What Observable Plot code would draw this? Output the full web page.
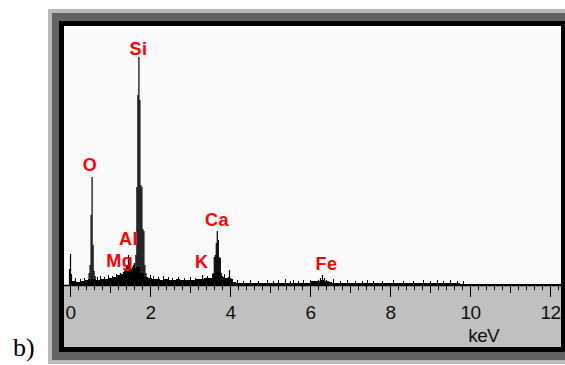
<!DOCTYPE html>
<html><head><meta charset="utf-8">
<script src="https://cdn.jsdelivr.net/npm/d3@7"></script>
<script src="https://cdn.jsdelivr.net/npm/@observablehq/plot@0.6"></script>
<style>
html,body{margin:0;padding:0;width:565px;height:365px;overflow:hidden;background:#fff;}
#f1{position:absolute;left:48px;top:9px;border:4px solid #b9b9b9;}
#f2{border:8px solid #626262;border-left-width:7px;border-right-width:7px;}
#f3{border:5px solid #000;width:497px;height:321px;}
#lab{position:absolute;left:13px;top:335px;font:26px/26px "Liberation Serif","Times New Roman",serif;color:#000;}
.axtext text{letter-spacing:-0.6px;}
.elabel text{letter-spacing:0.5px;}
</style></head>
<body>
<div id="lab">b)</div>
<div id="f1"><div id="f2"><div id="f3"></div></div></div>
<script>
// continuum (keV, counts)
const bgKeV = [0.0,0.1,0.2,0.3,0.4,0.5,0.6,0.7,0.8,0.9,1.0,1.1,1.2,1.3,1.4,1.5,1.6,1.7,1.8,1.9,
  2.0,2.1,2.2,2.3,2.4,2.5,2.6,2.7,2.8,2.9,3.0,3.1,3.2,3.3,3.4,3.5,3.6,3.7,3.8,3.9,
  4.0,4.1,4.2,4.6,5.0,5.4,5.8,6.2,6.3,6.4,6.5,6.6,7.0,7.5,8.0,8.5,9.0,9.5,10.0,11.0,12.0,12.3];
const bgCounts = [3,4,3,4,5,6,6,5,6,6,7,8,10,11,13,15,17,18,12,8,
  7,6,6,5,6,5,5,6,5,5,5,5,6,6,7,7,11,13,8,7,
  6,3,2,2,2,2,2,4,5,4,3,2,2,2,2,2,2,2,1,1,1,1];
// peak channels (keV, counts)
const peakKeV = [-0.025,0.0,0.025,
  0.465,0.49,0.515,0.54,0.565,0.59,0.615,
  1.2,1.225,1.25,1.275,1.3,1.325,1.35,1.375,1.4,1.425,1.45,1.475,1.5,1.525,1.55,1.575,
  1.6,1.635,1.66,1.685,1.71,1.735,1.76,1.785,1.81,1.835,1.86,1.885,
  3.275,3.3,3.325,
  3.57,3.595,3.62,3.645,3.67,3.695,3.72,3.745,3.77,3.795,
  3.95,3.975,4.0,
  6.2,6.25,6.3,6.35,6.4,6.45];
const peakCounts = [16,31,11,
  12,20,70,108,40,14,9,
  8,10,12,10,11,13,14,15,18,20,30,22,17,16,18,20,
  22,30,98,190,228,185,100,98,56,54,20,12,
  6,10,5,
  12,28,30,42,54,45,28,27,12,9,
  8,15,7,
  5,7,10,7,5,4];
// noise spikes (keV, counts)
const spikeKeV = [0.125,0.25,0.35,0.675,0.75,0.85,0.95,1.05,1.15,2.0,2.075,2.2,2.325,2.45,2.55,2.7,2.85,3.0,3.125,3.425,3.85,4.05,
  4.175,4.325,4.5,4.7,4.925,5.075,5.2,5.375,5.5,5.575,5.7,5.825,6.0,6.575,6.75,6.925,7.125,7.3,7.425,7.575,7.8,8.075,8.325,8.575,8.825,9.0,9.175,9.325,9.5,9.675,9.825];
const spikeCounts = [7,6,7,8,9,8,10,9,11,10,9,8,9,8,7,8,7,8,7,9,11,6,
  5,4,5,4,5,4,5,6,4,5,4,5,5,6,4,5,4,4,5,4,4,5,4,4,5,4,5,4,5,4,4];
// element labels
const elementNames = ["O","Mg","Al","Si","K","Ca","Fe"];
const elementKeV = [0.49,1.23,1.45,1.70,3.28,3.66,6.40];
const elementLabelCounts = [120,24,46,236,23,65,21];
// axis ticks
const majorTicks = [0,2,4,6,8,10,12];
const majorTickLabels = ["0","2","4","6","8","10","12"];
const midTicks = [1,3,5,7,9,11];
const minorTicks = [0.2,0.4,0.6,0.8,1.2,1.4,1.6,1.8,2.2,2.4,2.6,2.8,3.2,3.4,3.6,3.8,4.2,4.4,4.6,4.8,5.2,5.4,5.6,5.8,
  6.2,6.4,6.6,6.8,7.2,7.4,7.6,7.8,8.2,8.4,8.6,8.8,9.2,9.4,9.6,9.8,10.2,10.4,10.6,10.8,11.2,11.4,11.6,11.8,12.2];
const unitLabel = "keV";

const bg = bgKeV.map((k,i)=>({keV:k, counts:bgCounts[i]}));
const peaks = peakKeV.map((k,i)=>({keV:k, counts:peakCounts[i]}));
const spikes = spikeKeV.map((k,i)=>({keV:k, counts:spikeCounts[i]}));
const elements = elementNames.map((n,i)=>({name:n, keV:elementKeV[i], counts:elementLabelCounts[i]}));

const axFont = "'Liberation Sans Narrow','Liberation Sans',Arial,sans-serif";
const chart = Plot.plot({
  width: 497, height: 321,
  marginTop: 0, marginRight: 0, marginBottom: 62, marginLeft: 0,
  x: {domain: [-0.15, 12.275], label: null},
  y: {domain: [0, 259], axis: null},
  style: {background: "linear-gradient(#fafafa 0px, #fafafa 260px, #c0c0c0 260px, #c0c0c0 100%)", color: "#000", overflow: "visible"},
  marks: [
    Plot.areaY(bg, {x: "keV", y: "counts", curve: "step", fill: "#000"}),
    Plot.ruleX(spikes, {x: "keV", y1: 0, y2: "counts", stroke: "#000", strokeWidth: 1}),
    Plot.ruleX(peaks, {x: "keV", y1: 0, y2: "counts", stroke: "#000", strokeWidth: 1.2}),
    Plot.ruleY([0], {stroke: "#000", strokeWidth: 1.5}),
    Plot.axisX({ticks: minorTicks, tickSize: 5, tickFormat: () => "", stroke: "#000", label: null}),
    Plot.axisX({ticks: midTicks, tickSize: 8, tickFormat: () => "", stroke: "#000", label: null}),
    Plot.axisX({ticks: majorTicks, tickSize: 12, tickPadding: 8, tickFormat: (d) => majorTickLabels[majorTicks.indexOf(d)],
      fontSize: 19, fontFamily: axFont, fill: "#111", stroke: "#000", label: null, className: "axtext"}),
    Plot.text([unitLabel], {x: 10.33, frameAnchor: "bottom", dy: 50, text: d => d, fontSize: 19, fontFamily: axFont, fill: "#111", lineAnchor: "middle", className: "axtext"}),
    Plot.text(elements, {x: "keV", y: "counts", text: "name", fill: "#ff0000", fontWeight: "bold", fontSize: 18,
      fontFamily: "'Liberation Sans',Arial,sans-serif", lineAnchor: "middle", className: "elabel"})
  ]
});
document.getElementById("f3").appendChild(chart);
</script>
</body></html>
